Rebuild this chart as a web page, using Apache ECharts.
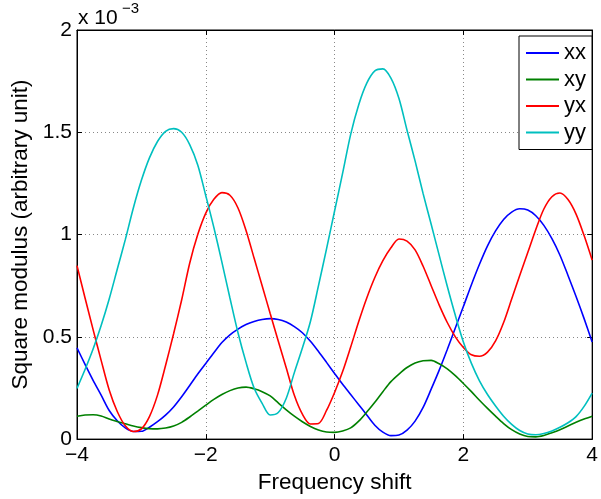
<!DOCTYPE html>
<html>
<head>
<meta charset="utf-8">
<script src="https://cdn.jsdelivr.net/npm/echarts@6/dist/echarts.min.js"></script>
<style>
html,body{margin:0;padding:0;background:#fff;}
#chart{width:601px;height:499px;}
</style>
</head>
<body>
<div id="chart"></div>
<script>
// Frequency shift samples (step 0.125)
var xs = [-4, -3.875, -3.75, -3.625, -3.5, -3.375, -3.25, -3.125, -3, -2.875, -2.75, -2.625, -2.5, -2.375, -2.25, -2.125,
          -2, -1.875, -1.75, -1.625, -1.5, -1.375, -1.25, -1.125, -1, -0.875, -0.75, -0.625, -0.5, -0.375, -0.25, -0.125,
          0, 0.125, 0.25, 0.375, 0.5, 0.625, 0.75, 0.875, 1, 1.125, 1.25, 1.375, 1.5, 1.625, 1.75, 1.875,
          2, 2.125, 2.25, 2.375, 2.5, 2.625, 2.75, 2.875, 3, 3.125, 3.25, 3.375, 3.5, 3.625, 3.75, 3.875, 4];
// Square modulus values, in units of 1e-3
var xx = [0.446, 0.365, 0.287, 0.215, 0.140, 0.090, 0.055, 0.037, 0.038, 0.058, 0.085, 0.117, 0.157, 0.207, 0.262, 0.318,
          0.370, 0.422, 0.472, 0.510, 0.538, 0.560, 0.575, 0.585, 0.589, 0.585, 0.572, 0.550, 0.520, 0.478, 0.428, 0.375,
          0.321, 0.268, 0.218, 0.168, 0.118, 0.068, 0.034, 0.017, 0.020, 0.044, 0.088, 0.155, 0.244, 0.337, 0.438, 0.543,
          0.648, 0.755, 0.855, 0.945, 1.018, 1.074, 1.110, 1.126, 1.120, 1.092, 1.045, 0.980, 0.899, 0.800, 0.697, 0.589, 0.475];
var xy = [0.112, 0.118, 0.119, 0.113, 0.098, 0.086, 0.075, 0.064, 0.056, 0.051, 0.050, 0.054, 0.064, 0.082, 0.108, 0.137,
          0.166, 0.194, 0.218, 0.237, 0.250, 0.254, 0.246, 0.232, 0.211, 0.177, 0.143, 0.112, 0.085, 0.062, 0.045, 0.035,
          0.033, 0.040, 0.055, 0.088, 0.132, 0.180, 0.232, 0.281, 0.318, 0.350, 0.372, 0.383, 0.385, 0.368, 0.343, 0.310,
          0.272, 0.232, 0.190, 0.150, 0.112, 0.076, 0.046, 0.025, 0.013, 0.011, 0.018, 0.031, 0.046, 0.064, 0.082, 0.098, 0.112];
var yx = [0.848, 0.690, 0.535, 0.385, 0.240, 0.135, 0.065, 0.037, 0.050, 0.110, 0.215, 0.360, 0.515, 0.680, 0.860, 1.000,
          1.105, 1.172, 1.205, 1.192, 1.130, 1.020, 0.885, 0.750, 0.614, 0.480, 0.348, 0.214, 0.122, 0.074, 0.076, 0.140,
          0.228, 0.330, 0.450, 0.575, 0.690, 0.790, 0.872, 0.935, 0.978, 0.968, 0.925, 0.845, 0.750, 0.655, 0.570, 0.500,
          0.448, 0.412, 0.405, 0.425, 0.480, 0.570, 0.685, 0.800, 0.912, 1.025, 1.125, 1.185, 1.203, 1.171, 1.100, 0.995, 0.875];
var yy = [0.248, 0.340, 0.440, 0.555, 0.685, 0.830, 0.975, 1.130, 1.265, 1.375, 1.455, 1.505, 1.518, 1.500, 1.440, 1.340,
          1.190, 1.035, 0.865, 0.690, 0.520, 0.375, 0.250, 0.175, 0.118, 0.130, 0.200, 0.325, 0.445, 0.575, 0.750, 0.930,
          1.115, 1.300, 1.490, 1.635, 1.740, 1.800, 1.810, 1.765, 1.665, 1.510, 1.360, 1.200, 1.050, 0.898, 0.747, 0.605,
          0.475, 0.370, 0.285, 0.218, 0.162, 0.112, 0.072, 0.042, 0.025, 0.021, 0.027, 0.040, 0.058, 0.080, 0.110, 0.160, 0.225];
var seriesNames = ['xx', 'xy', 'yx', 'yy'];
var seriesColors = ['#0000ff', '#008000', '#ff0000', '#00bfbf'];
var xTicks = [-4, -2, 0, 2, 4];
var yTicks = [0, 0.5, 1, 1.5, 2];
var exponentText = 'x 10';
var exponentSup = '\u22123';

function pairs(ys) { return xs.map(function (x, i) { return [x, ys[i]]; }); }
var allData = [xx, xy, yx, yy];

var FONT = '"Liberation Sans", Arial, Helvetica, sans-serif';
var chart = echarts.init(document.getElementById('chart'), null, {renderer: 'canvas'});

function fmtX(v) { return v < 0 ? '\u2212' + Math.abs(v) : String(v); }

var option = {
  animation: false,
  backgroundColor: '#ffffff',
  grid: {left: 77, right: 4, top: 30, bottom: 58, show: true, borderColor: '#000', borderWidth: 1},
  xAxis: [{
    type: 'value', min: xTicks[0], max: xTicks[xTicks.length - 1], interval: 2,
    name: 'Frequency shift', nameLocation: 'middle', nameGap: 26,
    nameTextStyle: {fontFamily: FONT, fontSize: 22.5, color: '#000'},
    axisLine: {show: true, onZero: false, lineStyle: {color: '#000', width: 1}},
    axisTick: {show: true, inside: true, length: 5, lineStyle: {color: '#000'}},
    axisLabel: {fontFamily: FONT, fontSize: 21, color: '#000', margin: 6, formatter: fmtX},
    splitLine: {show: true, lineStyle: {color: '#888', type: [1, 3], width: 1}}
  }, {
    type: 'value', position: 'top', min: xTicks[0], max: xTicks[xTicks.length - 1], interval: 2,
    axisLine: {show: true, onZero: false, lineStyle: {color: '#000'}},
    axisTick: {show: true, inside: true, length: 5, lineStyle: {color: '#000'}},
    axisLabel: {show: false}, splitLine: {show: false}
  }],
  yAxis: [{
    type: 'value', min: yTicks[0], max: yTicks[yTicks.length - 1], interval: 0.5,
    name: 'Square modulus (arbitrary unit)', nameLocation: 'middle', nameGap: 37,
    nameTextStyle: {fontFamily: FONT, fontSize: 22.5, color: '#000'},
    axisLine: {show: true, onZero: false, lineStyle: {color: '#000', width: 1}},
    axisTick: {show: true, inside: true, length: 5, lineStyle: {color: '#000'}},
    axisLabel: {fontFamily: FONT, fontSize: 21, color: '#000', margin: 5},
    splitLine: {show: true, lineStyle: {color: '#888', type: [1, 3], width: 1}}
  }, {
    type: 'value', position: 'right', min: yTicks[0], max: yTicks[yTicks.length - 1], interval: 0.5,
    axisLine: {show: true, onZero: false, lineStyle: {color: '#000'}},
    axisTick: {show: true, inside: true, length: 5, lineStyle: {color: '#000'}},
    axisLabel: {show: false}, splitLine: {show: false}
  }],
  legend: {
    show: true,
    orient: 'vertical', right: 9, top: 36,
    data: seriesNames,
    icon: 'rect',
    itemWidth: 33, itemHeight: 2, itemGap: 4.5,
    padding: [6, 6, 6, 7],
    backgroundColor: '#fff', borderColor: '#000', borderWidth: 1,
    textStyle: {fontFamily: FONT, fontSize: 22, color: '#000'}
  },
  graphic: [
    {type: 'text', left: 78, top: 8, style: {text: exponentText, font: '21px ' + FONT, fill: '#000'}},
    {type: 'text', left: 122, top: 1, style: {text: exponentSup, font: '15px ' + FONT, fill: '#000'}}
  ],
  series: seriesNames.map(function (n, i) {
    return {
      name: n, type: 'line', data: pairs(allData[i]), smooth: 0.3, symbol: 'none',
      xAxisIndex: 0, yAxisIndex: 0,
      lineStyle: {color: seriesColors[i], width: 1.6}, itemStyle: {color: seriesColors[i]},
      clip: true
    };
  })
};
chart.setOption(option);
</script>
</body>
</html>
